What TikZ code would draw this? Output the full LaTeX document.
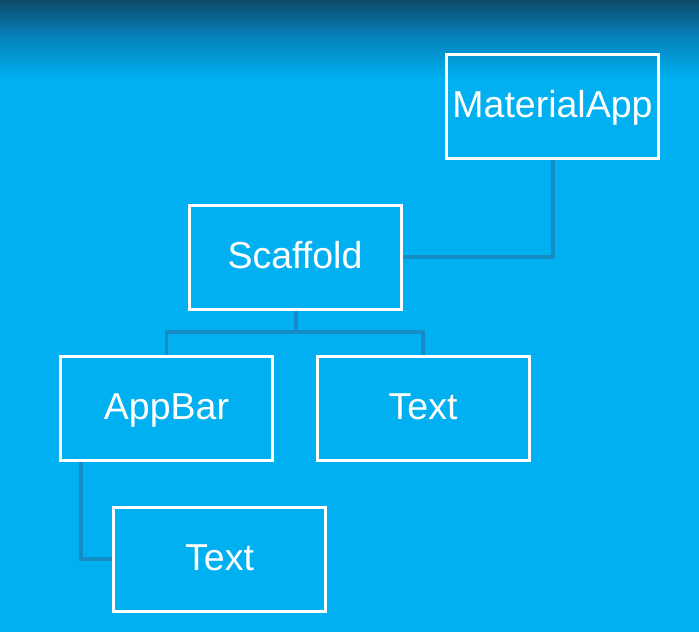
\documentclass[tikz,border=0pt]{standalone}
\usepackage{fontspec}
\setmainfont{Liberation Sans}
\definecolor{bg}{RGB}{0,176,240}
\definecolor{topdark}{RGB}{14,76,106}
\definecolor{topmid}{RGB}{5,128,186}
\definecolor{conn}{RGB}{22,140,198}
\begin{document}
\begin{tikzpicture}[x=1pt,y=-1pt,
  wbox/.style={draw=white,line width=3pt,minimum width=212pt,minimum height=104pt,
    inner sep=0pt,text=white,text height=26pt,text depth=4pt,
    font=\fontsize{37.5}{40}\selectfont},
  link/.style={draw=conn,line width=3.2pt,line join=miter}]
\useasboundingbox (0,0) rectangle (699,632);
\fill[bg] (0,0) rectangle (699,632);
\shade[top color=topdark,bottom color=topmid] (0,0) rectangle (699,36);
\shade[top color=topmid,bottom color=bg] (0,35.5) rectangle (699,78);
\node[wbox] (mat) at (552.5,106.5) {MaterialApp};
\node[wbox] (sca) at (295,257) {Scaffold};
\node[wbox] (app) at (166.5,408.5) {AppBar};
\node[wbox] (txa) at (423,408.5) {Text};
\node[wbox] (txb) at (219.5,559) {Text};
\coordinate (k1) at (553,257);
\coordinate (k2) at (296,332);
\coordinate (k3) at (81,559);
\draw[link] (mat.south -| k1) -- (k1) -- (sca.east |- k1);
\draw[link] (sca.south -| k2) -- (k2);
\draw[link] (app.north) -- (app.north |- k2) -- (txa.north |- k2) -- (txa.north);
\draw[link] (app.south -| k3) -- (k3) -- (txb.west |- k3);
\end{tikzpicture}
\end{document}
